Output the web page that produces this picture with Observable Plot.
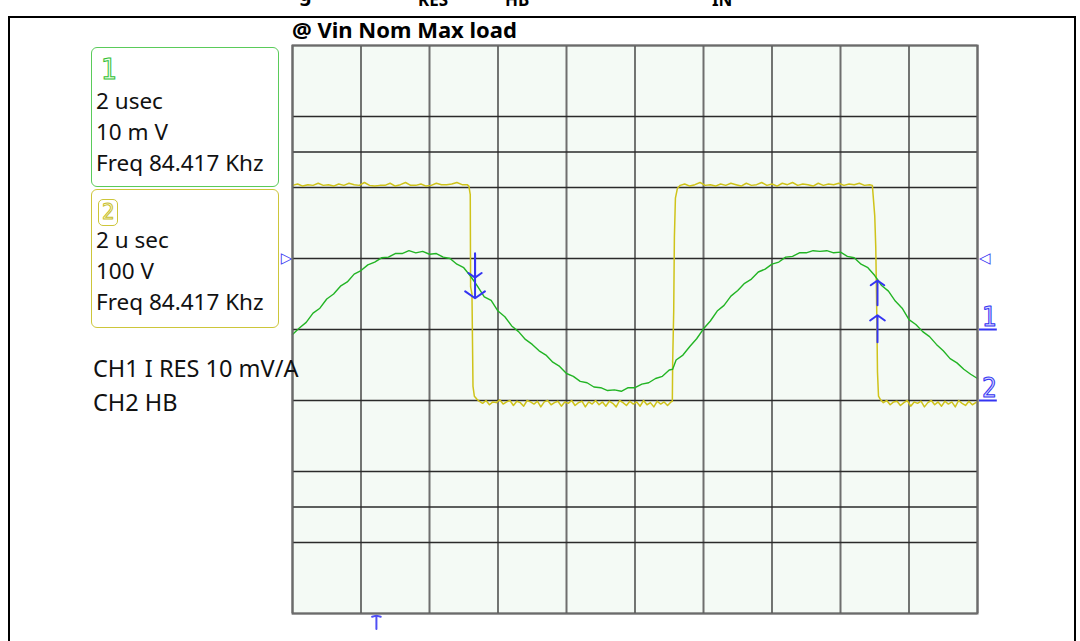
<!DOCTYPE html>
<html><head><meta charset="utf-8">
<script src="https://cdn.jsdelivr.net/npm/d3@7"></script>
<script src="https://cdn.jsdelivr.net/npm/@observablehq/plot@0.6"></script>
<style>
html,body{margin:0;padding:0;background:#fff;}
#wrap{position:relative;width:1080px;height:641px;overflow:hidden;background:#fff;font-family:"Noto Sans",sans-serif;}
#wrap svg{position:absolute;left:0;top:0;}
.t{position:absolute;white-space:nowrap;color:#111;}
</style></head>
<body><div id="wrap"></div>
<script>
// ---- data read from the screen capture ----
// time axis: 2 us / div, 10 divisions
const timeTicks = [0, 2, 4, 6, 8, 10, 12, 14, 16, 18, 20];
// vertical divisions (extra half-division lines as drawn on the scope screen)
const divLines = [-4, -3, -2.5, -2, -1, 0, 1, 2, 2.5, 3, 4];
// CH1: resonant current (A), 10 mV/A at 10 mV/div -> 1 A/div, ground at 0 div
const ch1Scale = 1, ch1Ground = 0;
// CH2: half-bridge node voltage (V), 100 V/div, ground at -1 div
const ch2Scale = 100, ch2Ground = -1;
const triggerLevel = 1;      // divisions
const triggerTime = 2.45;    // us

const iresTrace = [
[0.0,-0.07],[0.2,0.02],[0.4,0.10],[0.6,0.23],[0.8,0.30],[1.0,0.43],[1.2,0.50],[1.4,0.61],[1.6,0.67],[1.8,0.78],
[2.0,0.83],[2.2,0.91],[2.4,0.95],[2.6,1.01],[2.8,1.02],[3.0,1.07],[3.2,1.07],[3.4,1.11],[3.6,1.08],[3.8,1.10],
[4.0,1.06],[4.2,1.07],[4.4,1.02],[4.6,1.00],[4.8,0.92],[5.0,0.87],[5.2,0.75],[5.4,0.61],[5.6,0.46],[5.8,0.41],
[6.0,0.26],[6.2,0.18],[6.4,0.05],[6.6,-0.03],[6.8,-0.14],[7.0,-0.21],[7.2,-0.30],[7.4,-0.36],[7.6,-0.46],[7.8,-0.52],
[8.0,-0.62],[8.2,-0.66],[8.4,-0.73],[8.6,-0.75],[8.8,-0.81],[9.0,-0.82],[9.2,-0.86],[9.4,-0.85],[9.6,-0.87],[9.8,-0.82],
[10.0,-0.82],[10.2,-0.77],[10.4,-0.75],[10.6,-0.69],[10.8,-0.66],[11.0,-0.57],[11.1,-0.56],[11.2,-0.43],[11.4,-0.36],[11.6,-0.24],
[11.8,-0.13],[12.0,0.01],[12.2,0.12],[12.4,0.26],[12.6,0.34],[12.8,0.47],[13.0,0.55],[13.2,0.65],[13.4,0.71],[13.6,0.81],
[13.8,0.85],[14.0,0.92],[14.2,0.95],[14.4,1.02],[14.6,1.03],[14.8,1.08],[15.0,1.08],[15.2,1.11],[15.4,1.10],[15.6,1.11],
[15.8,1.08],[16.0,1.09],[16.2,1.03],[16.4,1.01],[16.6,0.92],[16.8,0.87],[17.0,0.76],[17.1,0.69],[17.2,0.62],[17.4,0.54],
[17.6,0.40],[17.8,0.30],[18.0,0.14],[18.2,0.07],[18.4,-0.03],[18.6,-0.10],[18.8,-0.21],[19.0,-0.30],[19.2,-0.41],[19.4,-0.47],
[19.6,-0.56],[19.8,-0.63],[20.0,-0.69]
];

const hbTrace = [
[0,303],[0.15,305],[0.3,302],[0.45,304],[0.6,303],[0.75,306],[0.9,303],[1.05,304],[1.2,302],[1.35,305],[1.5,303],[1.65,306],
[1.8,304],[1.95,303],[2.1,307],[2.25,303],[2.4,302],[2.55,303],[2.7,303],[2.85,306],[3.0,302],[3.15,304],[3.3,307],[3.45,303],
[3.6,303],[3.75,305],[3.9,302],[4.05,303],[4.2,306],[4.35,304],[4.5,304],[4.65,305],[4.8,307],[4.95,304],[5.1,304],[5.15,302],
[5.19,290],[5.20,160],[5.24,150],[5.27,20],[5.31,6],[5.38,2],
[5.45,-1],[5.55,-4],[5.65,0],[5.75,-6],[5.85,-2],[5.95,-3],[6.05,1],[6.15,-5],[6.25,-2],[6.35,0],[6.45,-7],[6.55,-1],
[6.65,-3],[6.75,-8],[6.85,0],[6.95,-2],[7.05,-5],[7.15,-1],[7.25,-9],[7.35,-2],[7.45,0],[7.55,-6],[7.65,-3],[7.75,-1],
[7.85,-8],[7.95,-2],[8.05,-4],[8.15,0],[8.25,-7],[8.35,-3],[8.45,-1],[8.55,-9],[8.65,-2],[8.75,-5],[8.85,0],[8.95,-6],
[9.05,-2],[9.15,-8],[9.25,-1],[9.35,-4],[9.45,-9],[9.55,0],[9.65,-3],[9.75,-7],[9.85,-1],[9.95,-5],[10.05,-2],[10.15,-8],
[10.25,0],[10.35,-6],[10.45,-3],[10.55,-9],[10.65,-1],[10.75,-5],[10.85,-2],[10.95,-7],[11.05,-2],
[11.09,-1],[11.10,55],[11.13,125],[11.15,230],[11.18,285],[11.24,299],[11.32,303],
[11.45,305],[11.6,302],[11.75,304],[11.9,307],[12.05,303],[12.2,304],[12.35,302],[12.5,305],[12.65,303],[12.8,306],
[12.95,304],[13.1,302],[13.25,306],[13.4,303],[13.55,304],[13.7,307],[13.85,303],[14.0,305],[14.15,302],[14.3,306],
[14.45,304],[14.6,307],[14.75,303],[14.9,305],[15.05,304],[15.2,302],[15.35,306],[15.5,303],[15.65,305],[15.8,304],
[15.95,306],[16.1,303],[16.25,305],[16.4,304],[16.55,306],[16.7,303],[16.85,304],[16.93,303],
[17.0,260],[17.03,215],[17.06,120],[17.08,40],[17.11,6],[17.17,1],
[17.25,-3],[17.35,0],[17.45,-6],[17.55,-2],[17.65,-1],[17.75,-7],[17.85,-3],[17.95,0],[18.05,-8],[18.15,-2],
[18.25,-4],[18.35,-1],[18.45,-9],[18.55,-3],[18.65,0],[18.75,-6],[18.85,-2],[18.95,-8],[19.05,-1],[19.15,-5],
[19.25,-2],[19.35,-9],[19.45,0],[19.55,-4],[19.65,-7],[19.75,-1],[19.85,-6],[19.95,-3],[20,-2]
];

// cursor arrows on the traces (time us, from div, to div)
const cursorArrows = [
  {t: 5.33, from: 1.07, to: 0.73},
  {t: 5.33, from: 1.07, to: 0.44},
  {t: 17.08, from: 0.34, to: 0.69},
  {t: 17.08, from: -0.18, to: 0.20}
];
const chLabels = [{ch: "1", div: ch1Ground}, {ch: "2", div: ch2Ground}];

const boxLines1 = ["2 usec", "10 m V", "Freq 84.417 Khz"];
const boxLines2 = ["2 u sec", "100 V", "Freq 84.417 Khz"];
const noteLines = ["CH1 I RES 10 mV/A", "CH2 HB"];
const title = "@ Vin Nom Max load";

// ---- build ----
const iresPts = iresTrace.map(([t, a]) => ({t, d: a / ch1Scale + ch1Ground}));
const hbPts = hbTrace.map(([t, v]) => ({t, d: v / ch2Scale + ch2Ground}));
const blue = "#3434f2";

const chart = Plot.plot({
  width: 1080, height: 641,
  marginLeft: 292, marginRight: 103, marginTop: 45, marginBottom: 28,
  style: {background: "transparent", overflow: "visible"},
  x: {domain: [0, 20], axis: null},
  y: {domain: [-4, 4], axis: null},
  marks: [
    Plot.frame({fill: "#f4faf5", stroke: null}),
    Plot.ruleX(timeTicks, {x: d => d, stroke: (d, i) => (i % 2 ? "#1a1a1a" : "#6e6e6e"), strokeWidth: (d, i) => (i % 2 ? 1.2 : 2)}),
    Plot.ruleY(divLines, {y: d => d, stroke: "#2a2a2a", strokeWidth: 1.5}),
    Plot.line(hbPts, {x: "t", y: "d", stroke: "#cfc31a", strokeWidth: 1.5}),
    Plot.line(iresPts, {x: "t", y: "d", stroke: "#22b424", strokeWidth: 1.4}),
    Plot.arrow(cursorArrows, {x1: "t", x2: "t", y1: "from", y2: "to", stroke: blue, strokeWidth: 2, headLength: 9, headAngle: 110}),
    Plot.arrow([triggerTime], {x1: d => d, x2: d => d, y1: -4.22, y2: -4.03, stroke: "#5050f4", strokeWidth: 2, headLength: 12, headAngle: 150, clip: false}),
    Plot.text([triggerLevel], {x: 0, y: d => d, text: () => "▷", dx: -6, fontSize: 15, fill: blue, fontFamily: "DejaVu Sans"}),
    Plot.text([triggerLevel], {x: 20, y: d => d, text: () => "◁", dx: 7, fontSize: 15, fill: blue, fontFamily: "DejaVu Sans"}),
    Plot.ruleY(chLabels, {y: "div", x1: 20, x2: 20.52, dx: 2, stroke: blue, strokeWidth: 2}),
    Plot.text(chLabels, {x: 20, y: "div", text: "ch", dx: 12, dy: -12, fontSize: 26, fontFamily: "DejaVu Sans Condensed", fill: "#d6d6ff", stroke: blue, strokeWidth: 1, paintOrder: "fill"}),
    Plot.frame({stroke: "#6b6b6b", strokeWidth: 2})
  ]
});
const wrap = document.getElementById("wrap");
wrap.appendChild(chart);

function addText(str, x, baseline, fs, extra = {}) {
  const el = document.createElement("div");
  el.className = "t";
  el.textContent = str;
  el.style.left = x + "px";
  el.style.top = (baseline - 0.888 * fs) + "px";
  el.style.fontSize = fs + "px";
  el.style.lineHeight = fs + "px";
  Object.assign(el.style, extra);
  wrap.appendChild(el);
  return el;
}
function addBox(x, y, w, h, color) {
  const el = document.createElement("div");
  Object.assign(el.style, {position: "absolute", left: x + "px", top: y + "px", width: w + "px", height: h + "px",
    border: "1.5px solid " + color, borderRadius: "6px", boxSizing: "border-box"});
  wrap.appendChild(el);
  return el;
}
// outer frame of the figure
const outer = document.createElement("div");
Object.assign(outer.style, {position: "absolute", left: "8px", top: "16px", width: "1068px", height: "700px",
  border: "2px solid #000", boxSizing: "border-box"});
wrap.appendChild(outer);

// cut-off caption above the figure
const cap = document.createElement("div");
Object.assign(cap.style, {position: "absolute", left: 0, top: 0, width: "1080px", height: "8px", overflow: "hidden"});
wrap.appendChild(cap);
[["g", 299, 2, 20], ["RES", 418, 6, 17], ["HB", 505, 6, 17], ["IN", 712, 6, 17]].forEach(([s, x, b, fs]) => {
  const el = document.createElement("div");
  el.className = "t";
  el.textContent = s;
  Object.assign(el.style, {left: x + "px", top: (b - 0.888 * fs) + "px", fontSize: fs + "px", lineHeight: fs + "px", fontWeight: "bold", color: "#000"});
  cap.appendChild(el);
});

addText(title, 292, 38, 22, {fontWeight: "bold", color: "#000"});

addBox(91, 47, 188, 140, "#5acb5a");
addText("1", 101, 81, 28, {fontFamily: "DejaVu Sans Condensed", color: "#f2fff2", webkitTextStroke: "1px #33c033"});
boxLines1.forEach((s, i) => addText(s, 96, 110 + i * 31, 22.5));

addBox(91, 189, 188, 139, "#cdc63a");
const sq = addBox(98, 199, 20, 27, "#cdc63a");
sq.style.borderRadius = "5px";
addText("2", 102, 221, 22, {fontFamily: "DejaVu Sans Condensed", color: "#fbfbe8", webkitTextStroke: "1px #c9c02a"});
boxLines2.forEach((s, i) => addText(s, 96, 249 + i * 31, 22.5));

noteLines.forEach((s, i) => addText(s, 93, 378 + i * 34, 23.5));
</script>
</body></html>
